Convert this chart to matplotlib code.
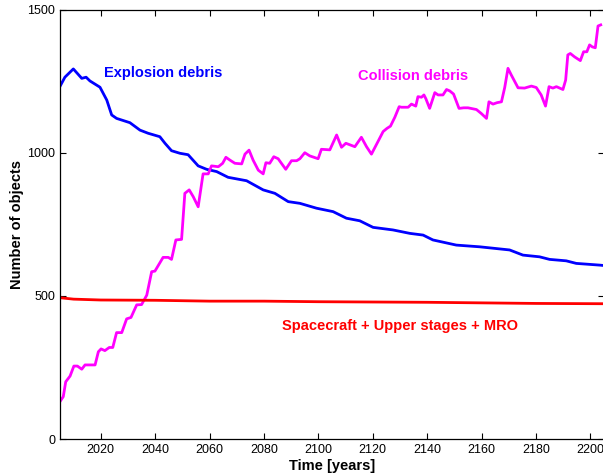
import matplotlib
matplotlib.use("Agg")
import matplotlib.pyplot as plt

# explosion debris (blue)
expl_years = [2005.0, 2006.8, 2009.9, 2013.0, 2014.6, 2016.0, 2019.7, 2022.2, 2024.0, 2025.8,
              2030.7, 2034.4, 2037.4, 2041.7, 2043.6, 2046.0, 2049.1, 2052.1, 2055.8, 2058.9,
              2062.6, 2066.8, 2073.6, 2079.7, 2084.0, 2088.9, 2093.2, 2099.3, 2105.4, 2110.3,
              2115.2, 2120.1, 2127.4, 2133.6, 2138.5, 2142.1, 2150.7, 2159.3, 2170.3, 2175.2,
              2181.3, 2185.0, 2191.1, 2194.8, 2203.4, 2204.5]
expl_vals = [1233, 1265, 1294, 1261, 1265, 1252, 1230, 1185, 1133, 1121,
             1106, 1080, 1069, 1057, 1034, 1008, 999, 994, 955, 943,
             935, 915, 903, 871, 859, 830, 824, 807, 795, 772,
             763, 740, 731, 719, 713, 696, 678, 672, 661, 643,
             637, 628, 623, 614, 608, 607]

# collision debris (magenta)
coll_years = [2005.0, 2006.2, 2007.1, 2008.7, 2010.1, 2011.4, 2013.0, 2014.2, 2017.9, 2019.1,
              2020.1, 2021.5, 2023.1, 2024.4, 2025.8, 2027.7, 2029.5, 2031.1, 2033.2, 2035.0,
              2036.9, 2038.7, 2039.9, 2042.9, 2044.8, 2046.0, 2047.6, 2049.7, 2050.9, 2052.5,
              2054.0, 2055.8, 2057.6, 2059.5, 2060.7, 2063.2, 2064.8, 2066.0, 2067.5, 2069.3,
              2071.8, 2073.0, 2074.5, 2076.0, 2077.9, 2079.7, 2080.7, 2082.1, 2083.6, 2085.2,
              2086.4, 2088.0, 2090.1, 2092.0, 2093.2, 2095.0, 2096.8, 2099.9, 2101.1, 2104.2,
              2106.7, 2108.5, 2110.1, 2113.4, 2115.8, 2117.7, 2119.5, 2121.9, 2123.8, 2125.2,
              2126.5, 2128.1, 2129.7, 2130.5, 2133.0, 2134.2, 2135.8, 2136.6, 2137.9, 2138.8,
              2139.5, 2140.9, 2142.8, 2144.0, 2145.8, 2147.1, 2148.3, 2149.7, 2151.7, 2153.4,
              2155.0, 2158.1, 2159.9, 2161.8, 2162.7, 2164.2, 2165.7, 2167.3, 2168.5, 2169.7,
              2170.9, 2173.4, 2175.8, 2178.3, 2180.1, 2181.9, 2183.5, 2184.8, 2186.2, 2187.5,
              2189.9, 2190.9, 2191.7, 2192.6, 2194.2, 2196.3, 2197.5, 2198.7, 2199.7, 2200.7,
              2201.8, 2202.8, 2203.8]
coll_vals = [131, 148, 200, 220, 255, 255, 244, 259, 259, 305,
             315, 309, 320, 320, 372, 372, 420, 425, 469, 470,
             503, 585, 587, 635, 635, 628, 696, 698, 859, 871,
             847, 812, 927, 927, 955, 952, 964, 985, 975, 964,
             962, 996, 1010, 975, 940, 927, 966, 964, 987, 980,
             964, 943, 973, 973, 980, 1001, 990, 980, 1013, 1011,
             1063, 1020, 1034, 1022, 1055, 1022, 996, 1040, 1075, 1086,
             1094, 1125, 1162, 1160, 1160, 1171, 1164, 1197, 1195, 1203,
             1190, 1156, 1211, 1203, 1203, 1222, 1217, 1206, 1156, 1158,
             1158, 1152, 1138, 1121, 1179, 1171, 1176, 1179, 1229, 1296,
             1273, 1228, 1227, 1234, 1229, 1203, 1164, 1232, 1227, 1232,
             1222, 1255, 1343, 1348, 1336, 1323, 1354, 1354, 1378, 1371,
             1368, 1444, 1448]

# spacecraft + upper stages + MRO (red)
sc_years = [2005, 2010, 2020, 2040, 2060, 2080, 2100, 2120, 2140, 2160, 2180, 2204.5]
sc_vals = [494, 489, 486, 485, 482, 482, 480, 479, 478, 476, 474, 473]

plt.rcParams["font.family"] = ["Liberation Sans", "DejaVu Sans"]

fig = plt.figure(figsize=(6.03, 4.76), dpi=100)
ax = fig.add_axes([60 / 603, 37 / 476, 544 / 603, 429 / 476])

ax.plot(expl_years, expl_vals, color="#0000ff", lw=2)
ax.plot(coll_years, coll_vals, color="#ff00ff", lw=2)
ax.plot(sc_years, sc_vals, color="#ff0000", lw=2)

ax.text(2021.2, 1280, "Explosion debris", color="#0000ff", fontsize=10.5,
        fontweight="bold", ha="left", va="center")
ax.text(2114.5, 1269, "Collision debris", color="#ff00ff", fontsize=10.5,
        fontweight="bold", ha="left", va="center")
ax.text(2086.6, 395, "Spacecraft + Upper stages + MRO", color="#ff0000", fontsize=10.5,
        fontweight="bold", ha="left", va="center")

ax.set_xlim(2005, 2205)
ax.set_ylim(0, 1500)
ax.set_xticks(range(2020, 2201, 20))
ax.set_yticks([0, 500, 1000, 1500])
ax.tick_params(direction="in", top=True, right=True, length=4, width=0.8, labelsize=9)
ax.set_xlabel("Time [years]", fontsize=10.5, fontweight="bold", labelpad=2)
ax.set_ylabel("Number of objects", fontsize=10.5, fontweight="bold", labelpad=2)
for sp in ax.spines.values():
    sp.set_linewidth(0.9)

fig.savefig("out.png", dpi=100)
